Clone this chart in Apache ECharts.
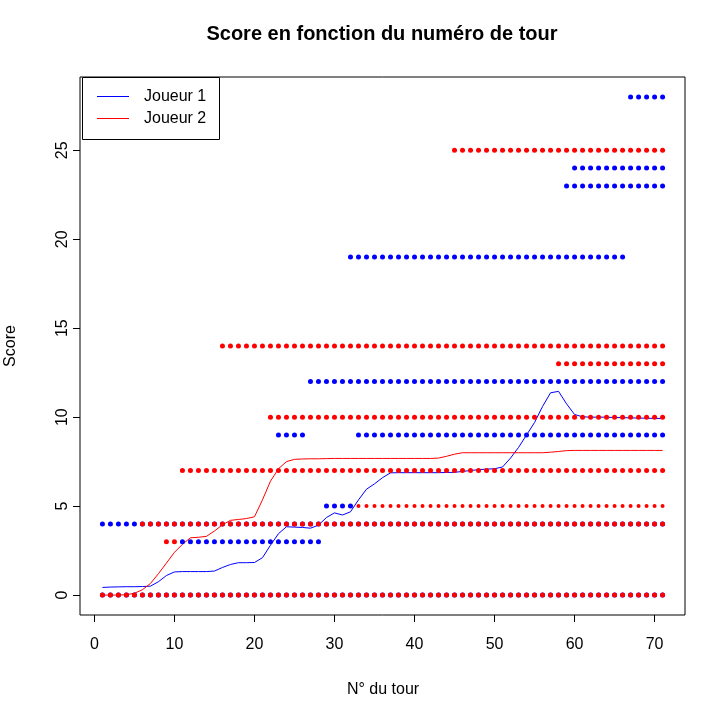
<!DOCTYPE html>
<html><head><meta charset="utf-8">
<script src="https://cdn.jsdelivr.net/npm/echarts@6/dist/echarts.min.js"></script>
<style>html,body{margin:0;padding:0;background:#fff}#c{width:718px;height:710px}</style>
</head><body><div id="c"></div>
<script>
const tours = [1,2,3,4,5,6,7,8,9,10,11,12,13,14,15,16,17,18,19,20,21,22,23,24,25,26,27,28,29,30,31,32,33,34,35,36,37,38,39,40,41,42,43,44,45,46,47,48,49,50,51,52,53,54,55,56,57,58,59,60,61,62,63,64,65,66,67,68,69,70,71];
const joueur1Moyenne = [0.43,0.45,0.46,0.47,0.47,0.48,0.5,0.75,1.1,1.3,1.32,1.32,1.32,1.32,1.35,1.55,1.72,1.82,1.82,1.83,2.1,2.8,3.45,3.84,3.82,3.8,3.76,3.93,4.36,4.62,4.5,4.68,5.35,5.95,6.25,6.6,6.87,6.88,6.88,6.88,6.88,6.88,6.88,6.89,6.9,6.95,7.0,7.05,7.08,7.1,7.2,7.7,8.3,9.0,9.7,10.6,11.37,11.45,10.75,10.15,10.02,10.0,10.0,10.0,9.98,9.97,9.96,9.95,9.94,9.93,9.93];
const joueur2Moyenne = [0,0,0,0.02,0.1,0.3,0.65,1.2,1.8,2.4,2.85,3.22,3.25,3.3,3.6,3.95,4.2,4.25,4.3,4.4,5.35,6.4,7.1,7.5,7.63,7.65,7.66,7.66,7.67,7.68,7.68,7.68,7.68,7.68,7.68,7.68,7.68,7.68,7.68,7.68,7.68,7.68,7.7,7.8,7.92,8.0,8.0,8.0,8.0,8.0,8.0,8.0,8.0,8.0,8.0,8.0,8.03,8.07,8.12,8.13,8.13,8.13,8.13,8.13,8.13,8.13,8.13,8.13,8.13,8.13,8.13];
// observed scores: [score, first tour, last tour]
const joueur1Scores = [[0,1,71],[4,1,71],[3,11,28],[9,23,26],[9,33,71],[12,27,71],[19,32,66],[23,59,71],[24,60,71],[28,67,71]];
const joueur1Scores5 = [[5,29,32]];
const joueur2Scores = [[0,1,71],[3,9,10],[4,6,71],[7,11,71],[10,22,71],[13,58,71],[14,16,71],[25,45,71]];
const joueur2Scores5 = [[5,29,71]];
const xTicks = [0,10,20,30,40,50,60,70];
const yTicks = [0,5,10,15,20,25];

const FONT = "'Liberation Sans', Arial, Helvetica, sans-serif";
function pts(runs){
  const out = [];
  runs.forEach(r => tours.forEach(t => { if (t >= r[1] && t <= r[2]) out.push([t, r[0]]); }));
  return out;
}
const BLUE = '#0000FF', RED = '#FF0000';
const chart = echarts.init(document.getElementById('c'), null, {renderer:'canvas'});
chart.setOption({
  animation:false,
  backgroundColor:'#fff',
  grid:{left:80,right:33,top:77,bottom:95,show:true,borderColor:'#000',borderWidth:1,backgroundColor:'transparent'},
  xAxis:{type:'value',min:-1.8,max:73.8,
    axisLine:{show:false,onZero:false},splitLine:{show:false},
    axisTick:{show:true,customValues:xTicks,length:7,lineStyle:{color:'#000',width:1}},
    axisLabel:{customValues:xTicks,fontSize:16,color:'#000',margin:22,fontFamily:FONT}},
  yAxis:{type:'value',min:-1.12,max:29.12,
    axisLine:{show:false,onZero:false},splitLine:{show:false},
    axisTick:{show:true,customValues:yTicks,length:7,lineStyle:{color:'#000',width:1}},
    axisLabel:{customValues:yTicks,fontSize:16,color:'#000',margin:9,rotate:90,fontFamily:FONT}},
  series:[
    {type:'line',name:'Joueur 1',data:tours.map((t,i)=>[t,joueur1Moyenne[i]]),showSymbol:false,lineStyle:{color:BLUE,width:1},itemStyle:{color:BLUE},silent:true,z:2},
    {type:'line',name:'Joueur 2',data:tours.map((t,i)=>[t,joueur2Moyenne[i]]),showSymbol:false,lineStyle:{color:RED,width:1},itemStyle:{color:RED},silent:true,z:2},
    {type:'scatter',data:pts(joueur2Scores5),symbolSize:4,itemStyle:{color:RED,opacity:1},silent:true,z:3},
    {type:'scatter',data:pts(joueur1Scores),symbolSize:5,itemStyle:{color:BLUE,opacity:1},silent:true,z:3},
    {type:'scatter',data:pts(joueur1Scores5),symbolSize:5,itemStyle:{color:BLUE,opacity:1},silent:true,z:4},
    {type:'scatter',data:pts(joueur2Scores),symbolSize:5,itemStyle:{color:RED,opacity:1},silent:true,z:4}
  ],
  graphic:[
    {type:'text',x:382,y:34,style:{text:'Score en fonction du numéro de tour',font:"bold 20px "+FONT,fill:'#000',align:'center',verticalAlign:'middle'}},
    {type:'text',x:383,y:690,style:{text:'N° du tour',font:"16px "+FONT,fill:'#000',align:'center',verticalAlign:'middle'}},
    {type:'text',x:11,y:346,rotation:Math.PI/2,style:{text:'Score',font:"16px "+FONT,fill:'#000',align:'center',verticalAlign:'middle'}},
    {type:'rect',shape:{x:82.5,y:77.5,width:137,height:62},style:{fill:'#fff',stroke:'#000',lineWidth:1},z:10},
    {type:'line',shape:{x1:97,y1:96.5,x2:129,y2:96.5},style:{stroke:BLUE,lineWidth:1},z:11},
    {type:'line',shape:{x1:97,y1:118.5,x2:129,y2:118.5},style:{stroke:RED,lineWidth:1},z:11},
    {type:'text',x:144,y:97,style:{text:'Joueur 1',font:"16px "+FONT,fill:'#000',align:'left',verticalAlign:'middle'},z:11},
    {type:'text',x:144,y:119,style:{text:'Joueur 2',font:"16px "+FONT,fill:'#000',align:'left',verticalAlign:'middle'},z:11}
  ]
});
</script></body></html>
